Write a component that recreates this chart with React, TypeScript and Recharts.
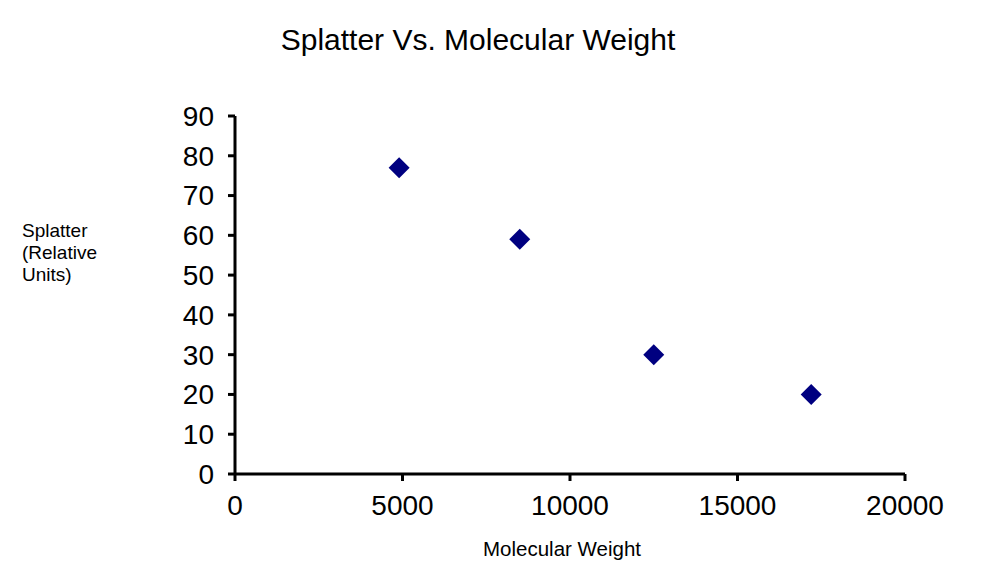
import React from 'react';
import { ScatterChart, Scatter, XAxis, YAxis } from 'recharts';

const molecularWeight = [4900, 8500, 12500, 17200];
const splatter = [77, 59, 30, 20];
const xTicks = [0, 5000, 10000, 15000, 20000];
const yTicks = [0, 10, 20, 30, 40, 50, 60, 70, 80, 90];

const data = molecularWeight.map((x, i) => ({ x, y: splatter[i] }));

const FONT = '"Liberation Sans", Arial, Helvetica, sans-serif';

const Diamond = (props: any) => {
  const { cx, cy } = props;
  const r = 10.5;
  return (
    <polygon
      points={`${cx},${cy - r} ${cx + r},${cy} ${cx},${cy + r} ${cx - r},${cy}`}
      fill="#000080"
    />
  );
};

export default function App() {
  return (
    <div style={{ position: 'relative', width: 983, height: 552, fontFamily: FONT, color: '#000' }}>
      <div
        style={{
          position: 'absolute', left: 0, top: 17, width: 940, textAlign: 'center',
          fontSize: 30, lineHeight: 1,
        }}
      >
        Splatter Vs. Molecular Weight
      </div>
      <div
        style={{
          position: 'absolute', left: 14, top: 212, fontSize: 19, lineHeight: '22px',
        }}
      >
        Splatter<br />(Relative<br />Units)
      </div>
      <div
        style={{
          position: 'absolute', left: 454, top: 531, width: 200, textAlign: 'center',
          fontSize: 20.5, lineHeight: 1,
        }}
      >
        Molecular Weight
      </div>
      <ScatterChart width={983} height={552} margin={{ top: 108, right: 86, left: 0, bottom: 0 }}>
        <XAxis
          type="number"
          dataKey="x"
          domain={[0, 20000]}
          ticks={xTicks}
          interval={0}
          height={86}
          tickSize={7}
          tickMargin={14}
          axisLine={{ stroke: '#000', strokeWidth: 3 }}
          tickLine={{ stroke: '#000', strokeWidth: 3 }}
          tick={{ fill: '#000', fontSize: 28, fontFamily: FONT }}
        />
        <YAxis
          type="number"
          dataKey="y"
          domain={[0, 90]}
          ticks={yTicks}
          interval={0}
          width={227}
          tickSize={7}
          tickMargin={14}
          axisLine={{ stroke: '#000', strokeWidth: 3 }}
          tickLine={{ stroke: '#000', strokeWidth: 3 }}
          tick={{ fill: '#000', fontSize: 28, fontFamily: FONT }}
        />
        <Scatter data={data} shape={Diamond} isAnimationActive={false} />
      </ScatterChart>
    </div>
  );
}
